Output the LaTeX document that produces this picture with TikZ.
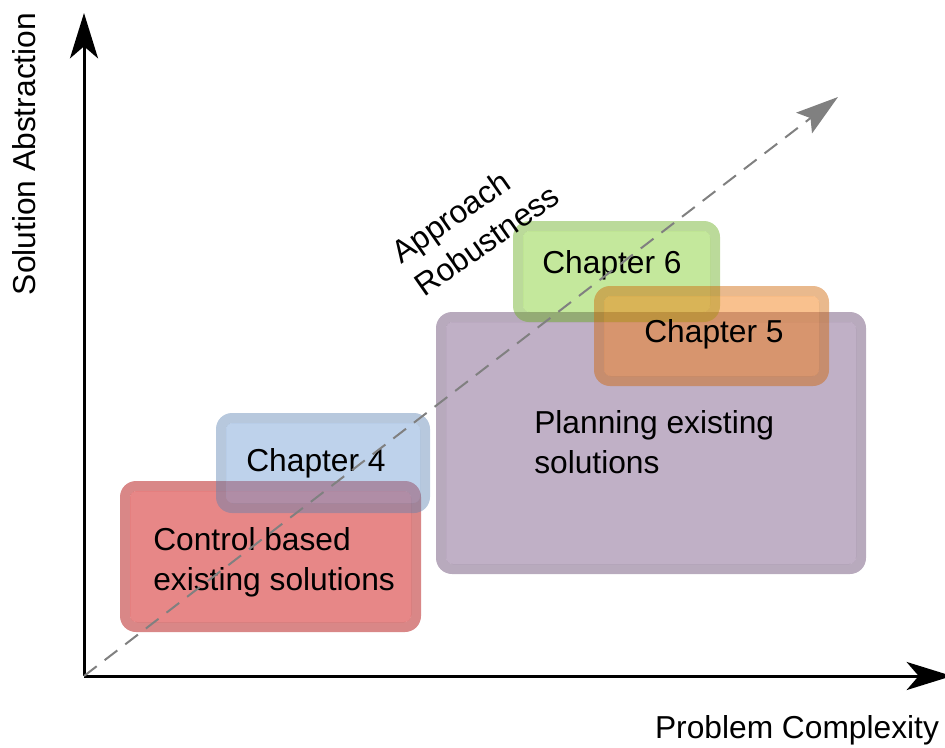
\documentclass[tikz,border=0pt]{standalone}
\usepackage{fontspec}
\setmainfont{Liberation Sans}
\usepackage{tikz}
\usetikzlibrary{arrows.meta,positioning}

\definecolor{ctrlred}{RGB}{205,0,0}
\definecolor{chapblue}{RGB}{104,150,208}
\definecolor{planpurple}{RGB}{115,79,128}
\definecolor{chapgreen}{RGB}{124,204,35}
\definecolor{chaporange}{RGB}{242,117,4}

\newcommand{\regionbox}[6]{%
  \fill [#5!85!black, opacity=#6, even odd rule] [rounded corners=12pt] (#1,#2) rectangle (#3,#4)
    [rounded corners=5pt] (#1+10,#2+10) rectangle (#3-10,#4-10);
  \fill [#5, opacity=#6] [rounded corners=5pt] (#1+10,#2+10) rectangle (#3-10,#4-10);
}

\begin{document}
\begin{tikzpicture}[x=0.75pt, y=-0.75pt,
  txt/.style={font=\fontsize{23.8}{30}\selectfont, inner sep=0pt},
  axis/.style={line width=2.25pt, -{Stealth[length=34pt, width=21pt, inset=9pt]}},
  trend/.style={gray, line width=1.5pt, dash pattern=on 12pt off 7.5pt,
    -{Stealth[length=32pt, width=19.5pt, inset=6pt]}}]
  \useasboundingbox (0,0) rectangle (945,747);
  \regionbox{120}{481}{421}{632}{ctrlred}{0.47}
  \regionbox{216}{413}{430}{513}{chapblue}{0.43}
  \regionbox{436}{312}{866}{574}{planpurple}{0.45}
  \regionbox{513}{221}{720}{322}{chapgreen}{0.45}
  \regionbox{594}{286}{829}{386}{chaporange}{0.45}
  \coordinate (origin) at (84,676);
  \coordinate (ytip) at (84,13);
  \coordinate (xtip) at (952,676);
  \coordinate (trendtip) at (838,97);
  \draw [axis] (origin) -- (ytip);
  \draw [axis] (origin) -- (xtip);
  \node [txt, rotate=90] (yname) at (24,154) {Solution Abstraction};
  \node [txt] (xname) at (797,730) {Problem Complexity};
  \node [txt] (ch4) at (316,463) {Chapter 4};
  \node [txt] (ch5) at (714,334) {Chapter 5};
  \node [txt] (ch6) at (612,265) {Chapter 6};
  \node [txt, align=left, anchor=north west] (ctrl) at (153,527) {Control based\\existing solutions};
  \node [txt, align=left, anchor=north west] (plan) at (534,410) {Planning existing\\solutions};
  \node [txt, align=left, rotate=35] (robust) at (475,224) {Approach\\Robustness};
  \draw [trend] (origin) -- (trendtip);
\end{tikzpicture}
\end{document}
